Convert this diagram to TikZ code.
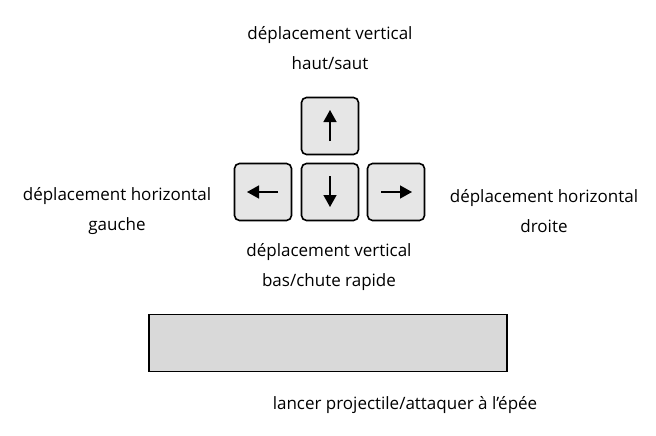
\documentclass[tikz,border=0pt]{standalone}
\usepackage{fontspec}
\setmainfont{Open Sans}
\usetikzlibrary{arrows.meta}
\definecolor{keyfill}{HTML}{E6E6E6}
\definecolor{barfill}{HTML}{D9D9D9}
\tikzset{
  key/.style={draw, line width=1.6pt, rounded corners=5pt, fill=keyfill,
    minimum width=57pt, minimum height=57pt, inner sep=0pt},
  keyarrow/.style={-{Triangle[length=12pt, width=13pt]}, line width=1.4pt},
  lbl/.style={align=center, font=\fontsize{17}{30}\selectfont}
}
\begin{document}
\begin{tikzpicture}[x=1pt, y=-1pt]
  \useasboundingbox (0,0) rectangle (656,436);
  % Arrow keys
  \node[key] (keyup) at (330,126) {};
  \node[key] (keydown) at (330,192) {};
  \node[key] (keyleft) at (263,192) {};
  \node[key] (keyright) at (396,192) {};
  \draw[keyarrow] ([yshift=-15pt]keyup.center) -- ([yshift=16pt]keyup.center);
  \draw[keyarrow] ([yshift=16pt]keydown.center) -- ([yshift=-15pt]keydown.center);
  \draw[keyarrow] ([xshift=15pt]keyleft.center) -- ([xshift=-16pt]keyleft.center);
  \draw[keyarrow] ([xshift=-15pt]keyright.center) -- ([xshift=16pt]keyright.center);
  % Space bar
  \node[draw, line width=1.8pt, fill=barfill, minimum width=358pt,
    minimum height=57pt, inner sep=0pt] (spacebar) at (328,343) {};
  % Labels
  \node[lbl] (lblup) at (330,48) {déplacement vertical\\haut/saut};
  \node[lbl] (lbldown) at (329,267) {déplacement vertical\\bas/chute rapide};
  \node[lbl] (lblleft) at (117,211) {déplacement horizontal\\gauche};
  \node[lbl] (lblright) at (544,211) {déplacement horizontal\\droite};
  \node[lbl] (lblbar) at (405,405) {lancer projectile/attaquer à l’épée};
\end{tikzpicture}
\end{document}
